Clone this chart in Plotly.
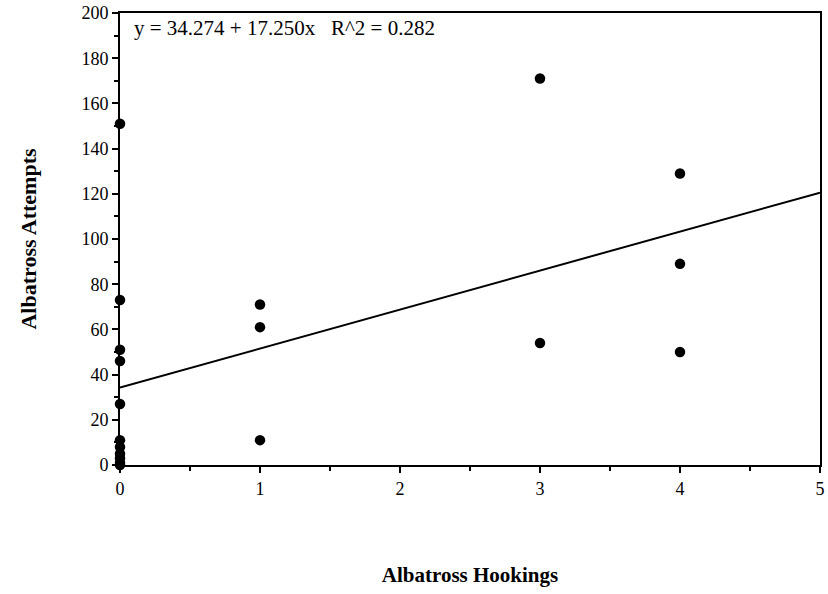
import plotly.graph_objects as go

# Data
hookings = [0, 0, 0, 0, 0, 0, 0, 0, 0, 0, 0,
            1, 1, 1,
            3, 3,
            4, 4, 4]
attempts = [151, 73, 51, 46, 27, 11, 8, 5, 3, 1, 0,
            71, 61, 11,
            171, 54,
            129, 89, 50]

# Fitted regression reported on the chart
fit_intercept = 34.274
fit_slope = 17.250
fit_r2 = 0.282
fit_x = [0, 5]
fit_y = [fit_intercept + fit_slope * v for v in fit_x]

x_ticks = [0, 1, 2, 3, 4, 5]
y_ticks = [0, 20, 40, 60, 80, 100, 120, 140, 160, 180, 200]

FONT = "Liberation Serif"

fig = go.Figure()
fig.add_trace(go.Scatter(
    x=fit_x, y=fit_y, mode="lines",
    line=dict(color="black", width=2),
    showlegend=False, hoverinfo="skip",
))
fig.add_trace(go.Scatter(
    x=hookings, y=attempts, mode="markers",
    marker=dict(color="black", size=10.5),
    showlegend=False, cliponaxis=False,
))

fig.update_layout(
    width=828, height=594,
    margin=dict(l=120, r=3, t=12, b=129),
    paper_bgcolor="white", plot_bgcolor="white",
    font=dict(family=FONT, color="black", size=18),
    xaxis=dict(
        range=[0, 5], tickvals=x_ticks, ticktext=[str(v) for v in x_ticks],
        showgrid=False, zeroline=False,
        showline=True, linecolor="black", linewidth=2, mirror=True,
        ticks="outside", ticklen=6, tickwidth=2, tickcolor="black",
        minor=dict(dtick=0.5, ticks="outside", ticklen=4, tickwidth=1.5, tickcolor="black"),
        tickfont=dict(family=FONT, size=18),
        title=dict(text="<b>Albatross Hookings</b>", font=dict(family=FONT, size=21), standoff=70),
    ),
    yaxis=dict(
        range=[0, 200], tickvals=y_ticks, ticktext=[str(v) for v in y_ticks],
        showgrid=False, zeroline=False,
        showline=True, linecolor="black", linewidth=2, mirror=True,
        ticks="outside", ticklen=6, tickwidth=2, tickcolor="black",
        minor=dict(dtick=10, ticks="outside", ticklen=4, tickwidth=1.5, tickcolor="black"),
        tickfont=dict(family=FONT, size=18),
        title=dict(text="<b>Albatross Attempts</b>", font=dict(family=FONT, size=22), standoff=39),
    ),
    annotations=[dict(
        x=0.017, y=0.997, xref="paper", yref="paper", xanchor="left", yanchor="top",
        text=f"y = {fit_intercept:.3f} + {fit_slope:.3f}x   R^2 = {fit_r2:.3f}",
        showarrow=False, font=dict(family=FONT, size=21, color="black"),
    )],
)

fig.write_html("out.html")
